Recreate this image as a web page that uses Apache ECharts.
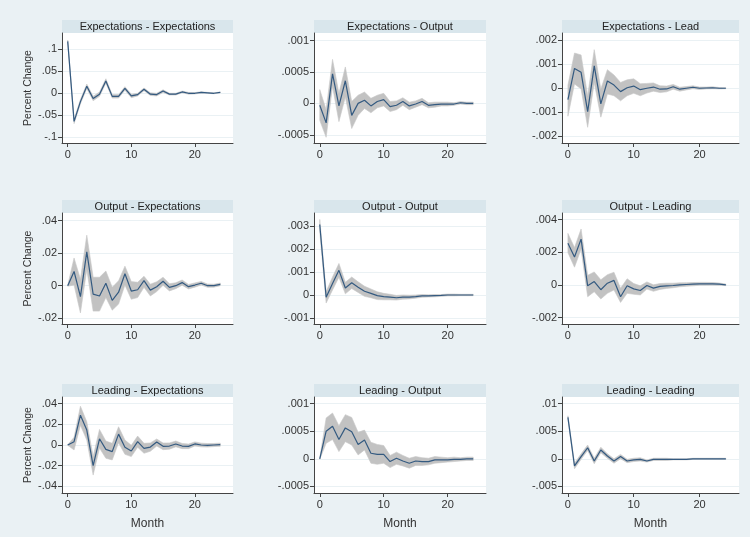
<!DOCTYPE html>
<html><head><meta charset="utf-8">
<script src="https://cdn.jsdelivr.net/npm/echarts@6/dist/echarts.min.js"></script>
<style>html,body{margin:0;padding:0;background:#eaf1f4;}#c{width:750px;height:537px;}</style>
</head><body><div id="c"></div>
<script>
// ---------- data ----------
const months = [0,1,2,3,4,5,6,7,8,9,10,11,12,13,14,15,16,17,18,19,20,21,22,23,24];
const xTicks = [0,10,20];

const titles = ["Expectations - Expectations","Expectations - Output","Expectations - Lead",
                "Output - Expectations","Output - Output","Output - Leading",
                "Leading - Expectations","Leading - Output","Leading - Leading"];

const ticks_ee = [-0.1,-0.05,0,0.05,0.1];
const ticks_eo = [-0.0005,0,0.0005,0.001];
const ticks_el = [-0.002,-0.001,0,0.001,0.002];
const ticks_oe = [-0.02,0,0.02,0.04];
const ticks_oo = [-0.001,0,0.001,0.002,0.003];
const ticks_ol = [-0.002,0,0.002,0.004];
const ticks_le = [-0.04,-0.02,0,0.02,0.04];
const ticks_lo = [-0.0005,0,0.0005,0.001];
const ticks_ll = [-0.005,0,0.005,0.01];

const irf_ee = [0.117,-0.065,-0.02,0.015,-0.013,-0.003,0.027,-0.008,-0.008,0.01,-0.007,-0.004,0.008,-0.003,-0.004,0.004,-0.003,-0.003,0.002,-0.001,-0.001,0.001,0,-0.001,0.001];
const lo_ee  = [0.114,-0.070,-0.025,0.010,-0.018,-0.008,0.022,-0.012,-0.012,0.006,-0.011,-0.007,0.005,-0.006,-0.007,0.001,-0.005,-0.005,0.000,-0.003,-0.0025,-0.0005,-0.001,-0.002,0.000];
const hi_ee  = [0.120,-0.060,-0.015,0.020,-0.008,0.002,0.032,-0.004,-0.004,0.014,-0.003,-0.001,0.011,0.000,-0.001,0.007,-0.001,-0.001,0.004,0.001,0.0005,0.0025,0.001,0.000,0.002];

const irf_eo = [-0.00003,-0.00031,0.00047,-0.00004,0.00036,-0.00019,0.0,0.00005,-0.00004,0.00003,0.00006,-0.00005,-0.00003,0.00003,-0.00004,-0.00001,0.00003,-0.00003,-0.00002,-0.00001,-0.00001,-0.00001,0.00001,0,0];
const lo_eo  = [-0.00027,-0.00054,0.00027,-0.00029,0.0001,-0.0004,-0.00019,-0.00008,-0.00015,-0.00007,-0.00004,-0.00013,-0.0001,-0.00003,-0.0001,-0.00006,-0.00002,-0.00007,-0.00006,-0.00004,-0.00004,-0.00003,-0.00001,-0.00002,-0.00002];
const hi_eo  = [0.00022,-0.0001,0.0007,0.00016,0.00058,0.00003,0.00013,0.00018,0.00008,0.00013,0.00016,0.00003,0.00004,0.00009,0.00002,0.00004,0.00008,0.00001,0.00002,0.00002,0.00002,0.00001,0.00003,0.00002,0.00002];

const irf_el = [-0.00048,0.00081,0.00065,-0.00098,0.00092,-0.00066,0.00029,0.00012,-0.00015,0.00001,0.00008,-0.00007,-0.00001,0.00004,-0.00005,-0.00004,0.00005,-0.00005,-0.00001,0.00003,-0.00001,0,0.00001,-0.00001,-0.00001];
const lo_el  = [-0.00117,0.00017,-0.00004,-0.00163,0.00023,-0.00121,-0.00025,-0.00032,-0.00053,-0.00032,-0.00022,-0.00032,-0.00021,-0.00013,-0.00019,-0.00016,-0.00005,-0.00013,-0.00008,-0.00003,-0.00006,-0.00004,-0.00003,-0.00004,-0.00003];
const hi_el  = [0.00012,0.00145,0.00137,-0.00032,0.00159,-0.00004,0.00076,0.00054,0.00023,0.00034,0.00038,0.00018,0.00019,0.00021,0.00009,0.00008,0.00015,0.00003,0.00006,0.00009,0.00004,0.00004,0.00005,0.00002,0.00001];

const irf_oe = [0,0.0087,-0.0067,0.0208,-0.0052,-0.0063,0.0015,-0.009,-0.004,0.0073,-0.0033,-0.0025,0.0031,-0.0027,-0.0006,0.0027,-0.001,0,0.0019,-0.0006,0.0004,0.0015,0,0,0.0008];
const lo_oe  = [-0.0003,0.0004,-0.0167,0.010,-0.0156,-0.0156,-0.0073,-0.015,-0.0113,0.0004,-0.0083,-0.0073,-0.001,-0.0063,-0.0036,0.0002,-0.0032,-0.0018,0.0003,-0.002,-0.0009,0.0004,-0.001,-0.0009,0];
const hi_oe  = [0.0003,0.017,0.004,0.031,0.0052,0.0052,0.009,-0.001,0.003,0.012,0.0025,0.0021,0.0058,0.0009,0.0024,0.0052,0.0012,0.0018,0.0035,0.0008,0.0017,0.0026,0.001,0.0009,0.0016];

const irf_oo = [0.00306,-0.0001,0.0005,0.00107,0.0003,0.00053,0.00034,0.00016,0.00007,-0.00003,-0.00007,-0.00009,-0.00012,-0.00009,-0.00009,-0.00007,-0.00004,-0.00004,-0.00003,-0.00002,0,0,0,0,0];
const lo_oo  = [0.00276,-0.00035,0.00022,0.00077,0.00005,0.00028,0.00011,-0.00006,-0.00012,-0.0002,-0.00021,-0.00021,-0.00022,-0.00018,-0.00017,-0.00014,-0.0001,-0.00009,-0.00008,-0.00006,-0.00004,-0.00004,-0.00003,-0.00003,-0.00003];
const hi_oo  = [0.00328,0.00015,0.00078,0.00137,0.00055,0.00078,0.00057,0.00038,0.00026,0.00014,0.00007,0.00003,-0.00002,0,-0.00001,0,0.00002,0.00001,0.00002,0.00002,0.00004,0.00004,0.00003,0.00003,0.00003];

const irf_ol = [0.00255,0.0017,0.0028,-0.00006,0.0002,-0.0003,0.0001,0.00027,-0.00073,-0.00006,-0.00025,-0.00035,-0.00004,-0.0002,-0.0001,-0.00006,-0.00004,0,0.00002,0.00004,0.00006,0.00006,0.00006,0.00004,0];
const lo_ol  = [0.00197,0.00108,0.00218,-0.00073,-0.00042,-0.00087,-0.00052,-0.00031,-0.00108,-0.00052,-0.00058,-0.00062,-0.00026,-0.0004,-0.00028,-0.00022,-0.00018,-0.00012,-0.00009,-0.00006,-0.00003,-0.00003,-0.00002,-0.00003,-0.00005];
const hi_ol  = [0.00315,0.00228,0.00342,0.00058,0.00079,0.00031,0.00062,0.00077,-0.00021,0.00037,0.00008,-0.00006,0.00018,0,0.00008,0.0001,0.0001,0.00012,0.00013,0.00014,0.00015,0.00015,0.00014,0.00011,0.00005];

const irf_le = [0,0.0032,0.0288,0.0144,-0.02,0.006,-0.0042,-0.0064,0.0105,-0.0022,-0.0058,0.0032,-0.0032,-0.002,0.0029,-0.0013,-0.001,0.001,-0.001,-0.0013,0.001,0,-0.0003,0,0.0003];
const lo_le  = [-0.0003,-0.0048,0.019,0.0048,-0.029,-0.003,-0.0128,-0.0144,0.0022,-0.009,-0.0112,-0.0022,-0.008,-0.006,-0.001,-0.0045,-0.004,-0.0018,-0.0035,-0.0035,-0.001,-0.0018,-0.002,-0.0015,-0.0012];
const hi_le  = [0.0003,0.0074,0.0374,0.0224,-0.011,0.015,0.0038,0.0016,0.0176,0.0048,-0.0003,0.0086,0.0016,0.002,0.0058,0.0019,0.002,0.0038,0.0015,0.0009,0.003,0.0018,0.0014,0.0015,0.0018];

const irf_lo = [0,0.0005,0.00059,0.00035,0.00056,0.00049,0.00026,0.00034,0.0001,0.00008,0.00008,-0.00005,0.00001,-0.00004,-0.00008,-0.00004,-0.00005,-0.00005,-0.00002,-0.00002,-0.00002,-0.00001,-0.00001,0,0];
const lo_lo  = [-0.00001,0.00028,0.00035,0.00013,0.00031,0.00025,0.00007,0.00016,-0.00008,-0.0001,-0.00008,-0.00016,-0.0001,-0.00013,-0.00017,-0.00012,-0.00012,-0.00011,-0.00008,-0.00007,-0.00006,-0.00005,-0.00004,-0.00003,-0.00003];
const hi_lo  = [0.00001,0.00074,0.00083,0.0006,0.0008,0.00075,0.00048,0.00052,0.0003,0.00026,0.00024,0.00006,0.00012,0.00006,0.00001,0.00004,0.00002,0.00001,0.00004,0.00003,0.00002,0.00003,0.00002,0.00003,0.00003];

const irf_ll = [0.0075,-0.0013,0.0004,0.002,-0.0004,0.0016,0.0005,-0.0004,0.0004,-0.0004,-0.0002,-0.0001,-0.0004,-0.0001,-0.0001,-0.0001,-0.0001,-0.0001,-0.0001,0,0,0,0,0,0];
const lo_ll  = [0.0072,-0.0018,-0.0001,0.0015,-0.0009,0.0011,0.0001,-0.0008,0,-0.0007,-0.0005,-0.0004,-0.0006,-0.0003,-0.0003,-0.0003,-0.0002,-0.0002,-0.0002,-0.0001,-0.0001,-0.0001,-0.0001,-0.0001,-0.0001];
const hi_ll  = [0.0078,-0.0008,0.0009,0.0025,0.0001,0.0021,0.0009,0,0.0008,-0.0001,0.0001,0.0002,-0.0002,0.0001,0.0001,0.0001,0,0,0,0.0001,0.0001,0.0001,0.0001,0.0001,0.0001];

// ---------- layout / style ----------
const panels = [
  {irf:irf_ee, lo:lo_ee, hi:hi_ee, ticks:ticks_ee, min:-0.114,   max:0.136},
  {irf:irf_eo, lo:lo_eo, hi:hi_eo, ticks:ticks_eo, min:-0.00063, max:0.00112},
  {irf:irf_el, lo:lo_el, hi:hi_el, ticks:ticks_el, min:-0.00228, max:0.00228},
  {irf:irf_oe, lo:lo_oe, hi:hi_oe, ticks:ticks_oe, min:-0.0235,  max:0.0446},
  {irf:irf_oo, lo:lo_oo, hi:hi_oo, ticks:ticks_oo, min:-0.00126, max:0.00356},
  {irf:irf_ol, lo:lo_ol, hi:hi_ol, ticks:ticks_ol, min:-0.0024,  max:0.0044},
  {irf:irf_le, lo:lo_le, hi:hi_le, ticks:ticks_le, min:-0.0463,  max:0.0463},
  {irf:irf_lo, lo:lo_lo, hi:hi_lo, ticks:ticks_lo, min:-0.00062, max:0.00112},
  {irf:irf_ll, lo:lo_ll, hi:hi_ll, ticks:ticks_ll, min:-0.0062,  max:0.0112}
];
const cols = [{left:62,width:171},{left:314,width:172},{left:562,width:177}];
const rows = [{top:33,height:110},{top:213,height:111},{top:397,height:96}];
const stripH = 13;
const FONT = '"Liberation Sans", Arial, sans-serif';
const txt = '#333';
const axisCol = '#444';

function fmt(v){
  let s = String(v);
  if (s.startsWith('0.')) s = s.slice(1);
  else if (s.startsWith('-0.')) s = '-' + s.slice(2);
  return s;
}

const grid=[], xAxis=[], yAxis=[], series=[], graphic=[];
panels.forEach((p,i)=>{
  const c = cols[i%3], r = rows[Math.floor(i/3)];
  grid.push({left:c.left, top:r.top, width:c.width, height:r.height, show:true, backgroundColor:'#ffffff', borderWidth:0});
  const bottomRow = Math.floor(i/3)===2;
  xAxis.push({
    type:'value', gridIndex:i, min:-0.9, max:26,
    axisLine:{show:true, onZero:false, lineStyle:{color:axisCol, width:1}},
    axisTick:{show:true, customValues:xTicks, length:4, lineStyle:{color:axisCol}},
    axisLabel:{customValues:xTicks, color:txt, fontSize:11, fontFamily:FONT, margin:6},
    splitLine:{show:false},
    name: bottomRow ? 'Month' : '', nameLocation:'middle', nameGap:25,
    nameTextStyle:{color:txt, fontSize:12, fontFamily:FONT}
  });
  const firstCol = i%3===0;
  yAxis.push({
    type:'value', gridIndex:i, min:p.min, max:p.max,
    axisLine:{show:true, onZero:false, lineStyle:{color:axisCol, width:1}},
    axisTick:{show:true, customValues:p.ticks, length:4, lineStyle:{color:axisCol}},
    axisLabel:{customValues:p.ticks, color:txt, fontSize:11, fontFamily:FONT, margin:5, formatter:fmt},
    splitLine:{show:true, lineStyle:{color:'#eaf1f4', width:1}},
    name: firstCol ? 'Percent Change' : '', nameLocation:'middle', nameGap:28, nameRotate:90,
    nameTextStyle:{color:txt, fontSize:10.5, fontFamily:FONT}
  });
  const bandData = months.map((m,k)=>[m, p.lo[k], p.hi[k]]);
  series.push({
    type:'custom', xAxisIndex:i, yAxisIndex:i, data:bandData, silent:true, z:1,
    encode:{x:0, y:[1,2]},
    renderItem:(params, api)=>{
      if (params.dataIndex !== 0) return null;
      const pts = [];
      for (let k=0;k<bandData.length;k++) pts.push(api.coord([bandData[k][0], bandData[k][1]]));
      for (let k=bandData.length-1;k>=0;k--) pts.push(api.coord([bandData[k][0], bandData[k][2]]));
      return {type:'polygon', shape:{points:pts}, style:{fill:'#c2c2c2', stroke:'#c8c8c8', lineWidth:0.6}};
    }
  });
  const line = months.map((m,k)=>[m, p.irf[k]]);
  series.push({type:'line', xAxisIndex:i, yAxisIndex:i, data:line, symbol:'none',
    lineStyle:{color:'#345a80', width:1.2}, silent:true, z:3});
  graphic.push({type:'group', left:c.left, top:r.top-stripH, children:[
    {type:'rect', shape:{x:0,y:0,width:c.width,height:stripH}, style:{fill:'#d9e6ec'}},
    {type:'text', x:c.width/2, y:stripH/2+0.5, style:{text:titles[i], fill:'#222', font:'11px '+FONT, align:'center', verticalAlign:'middle'}}
  ]});
});

const chart = echarts.init(document.getElementById('c'), null, {renderer:'canvas'});
chart.setOption({backgroundColor:'#eaf1f4', animation:false, grid, xAxis, yAxis, series, graphic});
</script></body></html>
